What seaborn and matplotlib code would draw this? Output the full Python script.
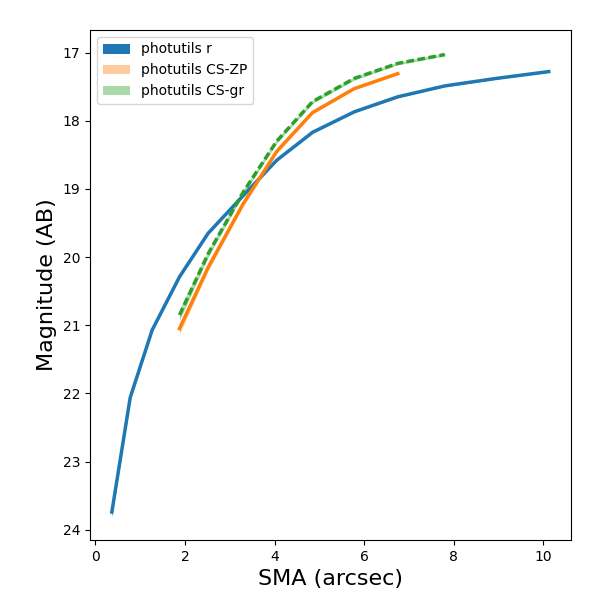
import numpy as np
import pandas as pd
import matplotlib
matplotlib.use("Agg")
import matplotlib.pyplot as plt
import seaborn as sns

# curve of growth
sma_r = [0.37, 0.78, 1.27, 1.88, 2.52, 3.3, 4.05, 4.85, 5.78, 6.75, 7.8, 8.95, 10.12]
mag_r = [23.74, 22.06, 21.07, 20.29, 19.65, 19.1, 18.58, 18.17, 17.87, 17.65, 17.49, 17.38, 17.28]
err_r = [0.07, 0.03, 0.02, 0.015, 0.012, 0.01, 0.01, 0.01, 0.01, 0.01, 0.01, 0.01, 0.01]

sma_zp = [1.88, 2.52, 3.3, 4.05, 4.85, 5.78, 6.75]
mag_zp = [21.05, 20.15, 19.22, 18.45, 17.88, 17.53, 17.31]
err_zp = [0.08, 0.05, 0.035, 0.025, 0.02, 0.015, 0.015]

sma_gr = [1.88, 2.52, 3.3, 4.05, 4.85, 5.78, 6.75, 7.8]
mag_gr = [20.85, 19.95, 19.05, 18.3, 17.72, 17.38, 17.16, 17.03]
err_gr = [0.08, 0.05, 0.035, 0.03, 0.025, 0.025, 0.02, 0.02]

fig, ax = plt.subplots(figsize=(6, 6), dpi=100)
fig.subplots_adjust(left=0.15, right=0.951, top=0.95, bottom=0.1)

# bands (these carry the legend)
bands = [
    (sma_r, mag_r, err_r, "C0", 1.0, "photutils r"),
    (sma_zp, mag_zp, err_zp, "C1", 0.4, "photutils CS-ZP"),
    (sma_gr, mag_gr, err_gr, "C2", 0.4, "photutils CS-gr"),
]
for x, y, e, c, a, lab in bands:
    y = np.array(y)
    e = np.array(e)
    ax.fill_between(x, y - e, y + e, color=c, alpha=a, label=lab, lw=0)

df_r = pd.DataFrame({"sma": sma_r, "mag": mag_r})
df_zp = pd.DataFrame({"sma": sma_zp, "mag": mag_zp})
df_gr = pd.DataFrame({"sma": sma_gr, "mag": mag_gr})

sns.lineplot(data=df_r, x="sma", y="mag", color="C0", lw=2.5, ax=ax)
sns.lineplot(data=df_zp, x="sma", y="mag", color="C1", lw=2.5, ax=ax)
line = sns.lineplot(data=df_gr, x="sma", y="mag", color="C2", lw=2.5, ax=ax).lines[-1]
line.set_dashes((2.2, 1.0))

ax.invert_yaxis()
ax.set_xlabel("SMA (arcsec)", fontsize=16)
ax.set_ylabel("Magnitude (AB)", fontsize=16)
ax.legend(loc="upper left")

fig.savefig("out.png", dpi=100)
